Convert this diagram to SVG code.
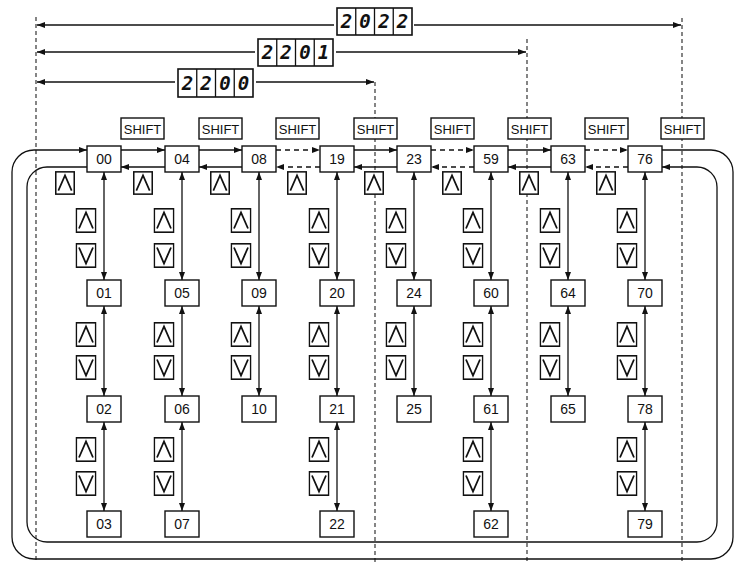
<svg xmlns="http://www.w3.org/2000/svg" xmlns:xlink="http://www.w3.org/1999/xlink" width="740" height="563" viewBox="0 0 740 563">
<style>
.bg{fill:#fff}
.box{fill:#fff;stroke:#111;stroke-width:1.4}
.lbl{font-family:"Liberation Sans",Arial,sans-serif;font-size:14px;fill:#111;text-anchor:middle}
.sh{font-family:"Liberation Sans",Arial,sans-serif;font-size:13px;fill:#111;text-anchor:middle}
.seg{font-family:"DejaVu Sans Mono","Liberation Mono",monospace;font-style:italic;font-weight:bold;font-size:19px;fill:#111;text-anchor:middle}
.segbox{fill:#fff;stroke:#111;stroke-width:1.6}
.ln{fill:none;stroke:#111;stroke-width:1.3}
.dash{fill:none;stroke:#111;stroke-width:1.3;stroke-dasharray:5 4}
.dot{fill:none;stroke:#222;stroke-width:1.1;stroke-dasharray:4 3}
</style>
<defs>
<marker id="ah" viewBox="0 0 8 6" refX="8" refY="3" markerWidth="8" markerHeight="6" markerUnits="userSpaceOnUse" orient="auto-start-reverse">
<path d="M0,0 L8,3 L0,6 z" fill="#111"/>
</marker>
<symbol id="up" viewBox="0 0 21 25">
<rect x="0.8" y="0.8" width="19.4" height="23.4" fill="#fff" stroke="#111" stroke-width="1.6"/>
<polyline points="3.5,20.5 10.5,4.5 17.5,20.5" fill="none" stroke="#111" stroke-width="1.8"/>
</symbol>
<symbol id="dn" viewBox="0 0 21 25">
<rect x="0.8" y="0.8" width="19.4" height="23.4" fill="#fff" stroke="#111" stroke-width="1.6"/>
<polyline points="3.5,4.5 10.5,20.5 17.5,4.5" fill="none" stroke="#111" stroke-width="1.8"/>
</symbol>
</defs>
<rect class="bg" x="0" y="0" width="740" height="563"/>

<g id="guides">
<path class="dot" d="M36,17 V563"/>
<path class="dot" d="M375,82 V563"/>
<path class="dot" d="M527,39 V563"/>
<path class="dot" d="M682,18 V563"/>
</g>

<g id="ranges">
<path class="ln" d="M334,25 H37" marker-end="url(#ah)"/>
<path class="ln" d="M414,25 H681" marker-end="url(#ah)"/>
<path class="ln" d="M255,52 H37" marker-end="url(#ah)"/>
<path class="ln" d="M336,52 H526" marker-end="url(#ah)"/>
<path class="ln" d="M175,82 H37" marker-end="url(#ah)"/>
<path class="ln" d="M256,82 H374" marker-end="url(#ah)"/>
</g>

<g id="disp-2022">
<rect class="segbox" x="337" y="8" width="75" height="27"/>
<path class="ln" d="M355.75,8 V35 M374.5,8 V35 M393.25,8 V35"/>
<text class="seg" x="346.4" y="28">2</text><text class="seg" x="365.1" y="28">0</text><text class="seg" x="383.9" y="28">2</text><text class="seg" x="402.6" y="28">2</text>
</g>
<g id="disp-2201">
<rect class="segbox" x="258" y="39" width="75" height="27"/>
<path class="ln" d="M276.75,39 V66 M295.5,39 V66 M314.25,39 V66"/>
<text class="seg" x="267.4" y="59">2</text><text class="seg" x="286.1" y="59">2</text><text class="seg" x="304.9" y="59">0</text><text class="seg" x="323.6" y="59">1</text>
</g>
<g id="disp-2200">
<rect class="segbox" x="178" y="69" width="75" height="28"/>
<path class="ln" d="M196.75,69 V97 M215.5,69 V97 M234.25,69 V97"/>
<text class="seg" x="187.4" y="89.5">2</text><text class="seg" x="206.1" y="89.5">2</text><text class="seg" x="224.9" y="89.5">0</text><text class="seg" x="243.6" y="89.5">0</text>
</g>

<g id="connectors">
<path class="ln" d="M662,150 H711 A22,22 0 0 1 733,172 V537 A22,22 0 0 1 711,559 H34 A22,22 0 0 1 12,537 V172 A22,22 0 0 1 34,150 H87" marker-end="url(#ah)"/>
<path class="ln" d="M87,167 H47 A20,20 0 0 0 27,187 V522 A20,20 0 0 0 47,542 H697 A20,20 0 0 0 717,522 V187 A20,20 0 0 0 697,167 H662" marker-end="url(#ah)"/>
<path class="ln" d="M121,150 H165" marker-end="url(#ah)"/><path class="ln" d="M165,167 H121" marker-end="url(#ah)"/>
<path class="ln" d="M199,150 H242" marker-end="url(#ah)"/><path class="ln" d="M242,167 H199" marker-end="url(#ah)"/>
<path class="dash" d="M276,150 H320" marker-end="url(#ah)"/><path class="dash" d="M320,167 H276" marker-end="url(#ah)"/>
<path class="ln" d="M354,150 H397" marker-end="url(#ah)"/><path class="ln" d="M397,167 H354" marker-end="url(#ah)"/>
<path class="dash" d="M431,150 H474" marker-end="url(#ah)"/><path class="dash" d="M474,167 H431" marker-end="url(#ah)"/>
<path class="ln" d="M508,150 H551" marker-end="url(#ah)"/><path class="ln" d="M551,167 H508" marker-end="url(#ah)"/>
<path class="dash" d="M585,150 H628" marker-end="url(#ah)"/><path class="dash" d="M628,167 H585" marker-end="url(#ah)"/>
<g marker-start="url(#ah)" marker-end="url(#ah)">
<path class="ln" d="M104,172 V280"/><path class="ln" d="M104,306 V396"/><path class="ln" d="M104,422 V511"/>
<path class="ln" d="M182,172 V280"/><path class="ln" d="M182,306 V396"/><path class="ln" d="M182,422 V511"/>
<path class="ln" d="M259,172 V280"/><path class="ln" d="M259,306 V396"/>
<path class="ln" d="M337,172 V280"/><path class="ln" d="M337,306 V396"/><path class="ln" d="M337,422 V511"/>
<path class="ln" d="M414,172 V280"/><path class="ln" d="M414,306 V396"/>
<path class="ln" d="M491,172 V280"/><path class="ln" d="M491,306 V396"/><path class="ln" d="M491,422 V511"/>
<path class="ln" d="M568,172 V280"/><path class="ln" d="M568,306 V396"/>
<path class="ln" d="M645,172 V280"/><path class="ln" d="M645,306 V396"/><path class="ln" d="M645,422 V511"/>
</g>
</g>

<g id="shift-keys">
<g id="shift-0"><rect class="box" x="121" y="118" width="43" height="21"/><text class="sh" x="142.5" y="133.5">SHIFT</text></g>
<g id="shift-1"><rect class="box" x="199" y="118" width="43" height="21"/><text class="sh" x="220.5" y="133.5">SHIFT</text></g>
<g id="shift-2"><rect class="box" x="276" y="118" width="43" height="21"/><text class="sh" x="297.5" y="133.5">SHIFT</text></g>
<g id="shift-3"><rect class="box" x="354" y="118" width="43" height="21"/><text class="sh" x="375.5" y="133.5">SHIFT</text></g>
<g id="shift-4"><rect class="box" x="431" y="118" width="43" height="21"/><text class="sh" x="452.5" y="133.5">SHIFT</text></g>
<g id="shift-5"><rect class="box" x="508" y="118" width="43" height="21"/><text class="sh" x="529.5" y="133.5">SHIFT</text></g>
<g id="shift-6"><rect class="box" x="585" y="118" width="43" height="21"/><text class="sh" x="606.5" y="133.5">SHIFT</text></g>
<g id="shift-7"><rect class="box" x="661" y="118" width="43" height="21"/><text class="sh" x="682.5" y="133.5">SHIFT</text></g>
</g>

<g id="top-up-keys">
<use href="#up" x="55" y="171" width="20" height="24"/>
<use href="#up" x="133" y="171" width="20" height="24"/>
<use href="#up" x="210" y="171" width="20" height="24"/>
<use href="#up" x="287" y="171" width="20" height="24"/>
<use href="#up" x="364" y="171" width="20" height="24"/>
<use href="#up" x="442" y="171" width="20" height="24"/>
<use href="#up" x="519" y="171" width="20" height="24"/>
<use href="#up" x="596" y="171" width="20" height="24"/>
</g>

<g id="updown-keys">
<use href="#up" x="75.5" y="208" width="21" height="25"/><use href="#dn" x="75.5" y="243" width="21" height="25"/>
<use href="#up" x="75.5" y="322" width="21" height="25"/><use href="#dn" x="75.5" y="355" width="21" height="25"/>
<use href="#up" x="75.5" y="437" width="21" height="25"/><use href="#dn" x="75.5" y="471" width="21" height="25"/>
<use href="#up" x="153.5" y="208" width="21" height="25"/><use href="#dn" x="153.5" y="243" width="21" height="25"/>
<use href="#up" x="153.5" y="322" width="21" height="25"/><use href="#dn" x="153.5" y="355" width="21" height="25"/>
<use href="#up" x="153.5" y="437" width="21" height="25"/><use href="#dn" x="153.5" y="471" width="21" height="25"/>
<use href="#up" x="230.5" y="208" width="21" height="25"/><use href="#dn" x="230.5" y="243" width="21" height="25"/>
<use href="#up" x="230.5" y="322" width="21" height="25"/><use href="#dn" x="230.5" y="355" width="21" height="25"/>
<use href="#up" x="308.5" y="208" width="21" height="25"/><use href="#dn" x="308.5" y="243" width="21" height="25"/>
<use href="#up" x="308.5" y="322" width="21" height="25"/><use href="#dn" x="308.5" y="355" width="21" height="25"/>
<use href="#up" x="308.5" y="437" width="21" height="25"/><use href="#dn" x="308.5" y="471" width="21" height="25"/>
<use href="#up" x="385.5" y="208" width="21" height="25"/><use href="#dn" x="385.5" y="243" width="21" height="25"/>
<use href="#up" x="385.5" y="322" width="21" height="25"/><use href="#dn" x="385.5" y="355" width="21" height="25"/>
<use href="#up" x="462.5" y="208" width="21" height="25"/><use href="#dn" x="462.5" y="243" width="21" height="25"/>
<use href="#up" x="462.5" y="322" width="21" height="25"/><use href="#dn" x="462.5" y="355" width="21" height="25"/>
<use href="#up" x="462.5" y="437" width="21" height="25"/><use href="#dn" x="462.5" y="471" width="21" height="25"/>
<use href="#up" x="539.5" y="208" width="21" height="25"/><use href="#dn" x="539.5" y="243" width="21" height="25"/>
<use href="#up" x="539.5" y="322" width="21" height="25"/><use href="#dn" x="539.5" y="355" width="21" height="25"/>
<use href="#up" x="616.5" y="208" width="21" height="25"/><use href="#dn" x="616.5" y="243" width="21" height="25"/>
<use href="#up" x="616.5" y="322" width="21" height="25"/><use href="#dn" x="616.5" y="355" width="21" height="25"/>
<use href="#up" x="616.5" y="437" width="21" height="25"/><use href="#dn" x="616.5" y="471" width="21" height="25"/>
</g>

<g id="n00"><rect class="box" x="87" y="146" width="34" height="26"/><text class="lbl" x="104" y="164">00</text></g>
<g id="n01"><rect class="box" x="87" y="280" width="34" height="26"/><text class="lbl" x="104" y="298">01</text></g>
<g id="n02"><rect class="box" x="87" y="396" width="34" height="26"/><text class="lbl" x="104" y="414">02</text></g>
<g id="n03"><rect class="box" x="87" y="511" width="34" height="26"/><text class="lbl" x="104" y="529">03</text></g>
<g id="n04"><rect class="box" x="165" y="146" width="34" height="26"/><text class="lbl" x="182" y="164">04</text></g>
<g id="n05"><rect class="box" x="165" y="280" width="34" height="26"/><text class="lbl" x="182" y="298">05</text></g>
<g id="n06"><rect class="box" x="165" y="396" width="34" height="26"/><text class="lbl" x="182" y="414">06</text></g>
<g id="n07"><rect class="box" x="165" y="511" width="34" height="26"/><text class="lbl" x="182" y="529">07</text></g>
<g id="n08"><rect class="box" x="242" y="146" width="34" height="26"/><text class="lbl" x="259" y="164">08</text></g>
<g id="n09"><rect class="box" x="242" y="280" width="34" height="26"/><text class="lbl" x="259" y="298">09</text></g>
<g id="n10"><rect class="box" x="242" y="396" width="34" height="26"/><text class="lbl" x="259" y="414">10</text></g>
<g id="n19"><rect class="box" x="320" y="146" width="34" height="26"/><text class="lbl" x="337" y="164">19</text></g>
<g id="n20"><rect class="box" x="320" y="280" width="34" height="26"/><text class="lbl" x="337" y="298">20</text></g>
<g id="n21"><rect class="box" x="320" y="396" width="34" height="26"/><text class="lbl" x="337" y="414">21</text></g>
<g id="n22"><rect class="box" x="320" y="511" width="34" height="26"/><text class="lbl" x="337" y="529">22</text></g>
<g id="n23"><rect class="box" x="397" y="146" width="34" height="26"/><text class="lbl" x="414" y="164">23</text></g>
<g id="n24"><rect class="box" x="397" y="280" width="34" height="26"/><text class="lbl" x="414" y="298">24</text></g>
<g id="n25"><rect class="box" x="397" y="396" width="34" height="26"/><text class="lbl" x="414" y="414">25</text></g>
<g id="n59"><rect class="box" x="474" y="146" width="34" height="26"/><text class="lbl" x="491" y="164">59</text></g>
<g id="n60"><rect class="box" x="474" y="280" width="34" height="26"/><text class="lbl" x="491" y="298">60</text></g>
<g id="n61"><rect class="box" x="474" y="396" width="34" height="26"/><text class="lbl" x="491" y="414">61</text></g>
<g id="n62"><rect class="box" x="474" y="511" width="34" height="26"/><text class="lbl" x="491" y="529">62</text></g>
<g id="n63"><rect class="box" x="551" y="146" width="34" height="26"/><text class="lbl" x="568" y="164">63</text></g>
<g id="n64"><rect class="box" x="551" y="280" width="34" height="26"/><text class="lbl" x="568" y="298">64</text></g>
<g id="n65"><rect class="box" x="551" y="396" width="34" height="26"/><text class="lbl" x="568" y="414">65</text></g>
<g id="n76"><rect class="box" x="628" y="146" width="34" height="26"/><text class="lbl" x="645" y="164">76</text></g>
<g id="n70"><rect class="box" x="628" y="280" width="34" height="26"/><text class="lbl" x="645" y="298">70</text></g>
<g id="n78"><rect class="box" x="628" y="396" width="34" height="26"/><text class="lbl" x="645" y="414">78</text></g>
<g id="n79"><rect class="box" x="628" y="511" width="34" height="26"/><text class="lbl" x="645" y="529">79</text></g>
</svg>
